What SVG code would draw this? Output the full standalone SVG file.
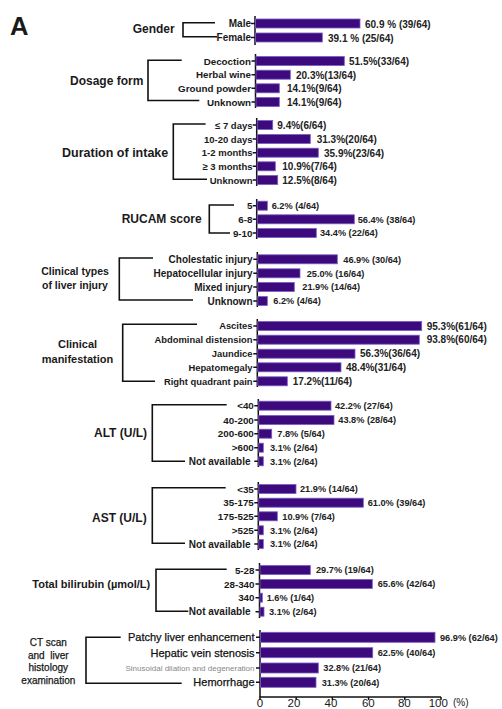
<svg xmlns="http://www.w3.org/2000/svg" width="502" height="709" viewBox="0 0 502 709">
<style>
.bar{fill:#3c0a7d;stroke:#7a5cc4;stroke-width:0.8}
.ax{stroke:#111;stroke-width:1.5;fill:none}
.br{stroke:#111;stroke-width:1.6;fill:none}
text{font-family:"Liberation Sans",Arial,sans-serif;fill:#1a1a1a}
.b{font-weight:bold}
.cat{font-weight:bold;text-anchor:end;font-size:9.8px}
.v{font-weight:bold;font-size:9.2px;fill:#222}
.v10{font-weight:bold;font-size:10px;fill:#222}
.ttl{font-weight:bold;font-size:12px}
.mid{text-anchor:middle}
.semi{stroke:#111;stroke-width:0.25}
</style>
<rect width="502" height="709" fill="#fff"/>
<text x="10" y="35" class="b" style="font-size:25.6px">A</text>

<g id="connectors">
<path class="br" d="M215,22.7 H183 V36.7 H217"/>
<path class="br" d="M181.7,60.3 H148 V100.5 H199.3"/>
<path class="br" d="M205.6,124 H173.3 V179.3 H207"/>
<path class="br" d="M234,205 H209.3 V233 H230"/>
<path class="br" d="M153,258 H119.3 V300 H193"/>
<path class="br" d="M197,324.3 H122.7 V381.3 H155"/>
<path class="br" d="M226.7,404.7 H152.3 V461.3 H185"/>
<path class="br" d="M225.7,487.7 H152.3 V543.3 H185"/>
<path class="br" d="M226.7,569.3 H156 V611.3 H188.3"/>
<path class="br" d="M120.7,637.3 H86 V683.3 H181.7"/>
</g>

<g id="gender">
<text x="132.7" y="32.5" class="ttl">Gender</text>
<path class="ax" d="M255,16 V45 M251,23.5 H255 M251,37.5 H255"/>
<rect class="bar" x="255.5" y="19" width="104.5" height="9"/>
<rect class="bar" x="255.5" y="33" width="66.8" height="9"/>
<text x="251" y="27" class="cat" style="font-size:10px">Male</text>
<text x="251" y="41" class="cat" style="font-size:10px">Female</text>
<text x="365" y="27.5" class="v10">60.9 % (39/64)</text>
<text x="328" y="41.5" class="v10">39.1 % (25/64)</text>
</g>

<g id="dosage-form">
<text x="70" y="85" class="ttl">Dosage form</text>
<path class="ax" d="M255.5,54 V108 M251.5,61 H255.5 M251.5,74.7 H255.5 M251.5,88.3 H255.5 M251.5,102 H255.5"/>
<rect class="bar" x="256" y="56.5" width="88.3" height="9"/>
<rect class="bar" x="256" y="70.2" width="34.3" height="9"/>
<rect class="bar" x="256" y="83.8" width="23.3" height="9"/>
<rect class="bar" x="256" y="97.5" width="23.3" height="9"/>
<text x="251" y="64.5" class="cat">Decoction</text>
<text x="251" y="78.2" class="cat">Herbal wine</text>
<text x="251" y="91.8" class="cat">Ground powder</text>
<text x="251" y="105.5" class="cat">Unknown</text>
<text x="349" y="65" class="v10">51.5%(33/64)</text>
<text x="296" y="78.7" class="v10">20.3%(13/64)</text>
<text x="287" y="92.3" class="v10">14.1%(9/64)</text>
<text x="287" y="106" class="v10">14.1%(9/64)</text>
</g>

<g id="duration-of-intake">
<text x="62" y="157" class="ttl" style="font-size:12.5px">Duration of intake</text>
<path class="ax" d="M256.7,118 V186 M252.7,125 H256.7 M252.7,139 H256.7 M252.7,152.7 H256.7 M252.7,166.3 H256.7 M252.7,180 H256.7"/>
<rect class="bar" x="257.2" y="120.5" width="15.5" height="9"/>
<rect class="bar" x="257.2" y="134.5" width="53.1" height="9"/>
<rect class="bar" x="257.2" y="148.2" width="61.1" height="9"/>
<rect class="bar" x="257.2" y="161.8" width="18.1" height="9"/>
<rect class="bar" x="257.2" y="175.5" width="20.5" height="9"/>
<text x="252.5" y="128.5" class="cat" style="font-size:9.5px">≤ 7 days</text>
<text x="252.5" y="142.5" class="cat" style="font-size:9.5px">10-20 days</text>
<text x="252.5" y="156.2" class="cat" style="font-size:9.5px">1-2 months</text>
<text x="252.5" y="169.8" class="cat" style="font-size:9.5px">≥ 3 months</text>
<text x="252.5" y="183.5" class="cat" style="font-size:9.5px">Unknown</text>
<text x="277.3" y="129" class="v10">9.4%(6/64)</text>
<text x="316.7" y="143" class="v10">31.3%(20/64)</text>
<text x="324" y="156.7" class="v10">35.9%(23/64)</text>
<text x="282.3" y="170.3" class="v10">10.9%(7/64)</text>
<text x="282.3" y="184" class="v10">12.5%(8/64)</text>
</g>

<g id="rucam-score">
<text x="121.7" y="223.3" class="ttl">RUCAM score</text>
<path class="ax" d="M256.7,199 V239 M252.7,205.7 H256.7 M252.7,219.3 H256.7 M252.7,233 H256.7"/>
<rect class="bar" x="257.2" y="201.2" width="10.1" height="9"/>
<rect class="bar" x="257.2" y="214.8" width="97.1" height="9"/>
<rect class="bar" x="257.2" y="228.5" width="59.1" height="9"/>
<text x="252.5" y="209.2" class="cat">5</text>
<text x="252.5" y="222.8" class="cat">6-8</text>
<text x="252.5" y="236.5" class="cat">9-10</text>
<text x="271.7" y="209" class="v">6.2% (4/64)</text>
<text x="357.7" y="222.6" class="v">56.4% (38/64)</text>
<text x="320" y="236.3" class="v">34.4% (22/64)</text>
</g>

<g id="clinical-types">
<text x="75" y="274.5" class="b mid" style="font-size:10.5px">Clinical types</text>
<text x="75" y="289" class="b mid" style="font-size:10.5px">of liver injury</text>
<path class="ax" d="M257.3,252 V307 M253.3,259.3 H257.3 M253.3,273.3 H257.3 M253.3,287 H257.3 M253.3,301 H257.3"/>
<rect class="bar" x="257.8" y="254.8" width="79.5" height="9"/>
<rect class="bar" x="257.8" y="268.8" width="42.2" height="9"/>
<rect class="bar" x="257.8" y="282.5" width="36.5" height="9"/>
<rect class="bar" x="257.8" y="296.5" width="9.5" height="9"/>
<text x="252.5" y="262.8" class="cat" style="font-size:10px">Cholestatic injury</text>
<text x="252.5" y="276.8" class="cat" style="font-size:10px">Hepatocellular injury</text>
<text x="252.5" y="290.5" class="cat" style="font-size:10px">Mixed injury</text>
<text x="252.5" y="304.5" class="cat" style="font-size:10px">Unknown</text>
<text x="343.3" y="262.6" class="v">46.9% (30/64)</text>
<text x="306.7" y="276.6" class="v">25.0% (16/64)</text>
<text x="302.3" y="290.3" class="v">21.9% (14/64)</text>
<text x="273.3" y="304.3" class="v">6.2% (4/64)</text>
</g>

<g id="clinical-manifestation">
<text x="77.5" y="348" class="b mid" style="font-size:11px">Clinical</text>
<text x="77.5" y="363" class="b mid" style="font-size:11px">manifestation</text>
<path class="ax" d="M257.3,319 V387 M253.3,326 H257.3 M253.3,339.7 H257.3 M253.3,353.7 H257.3 M253.3,367.3 H257.3 M253.3,381.3 H257.3"/>
<rect class="bar" x="257.8" y="321.5" width="163.9" height="9"/>
<rect class="bar" x="257.8" y="335.2" width="161.5" height="9"/>
<rect class="bar" x="257.8" y="349.2" width="97.2" height="9"/>
<rect class="bar" x="257.8" y="362.8" width="83.2" height="9"/>
<rect class="bar" x="257.8" y="376.8" width="29.5" height="9"/>
<text x="252.5" y="329.4" class="cat" style="font-size:9.4px">Ascites</text>
<text x="252.5" y="343.1" class="cat" style="font-size:9.4px">Abdominal distension</text>
<text x="252.5" y="357.1" class="cat" style="font-size:9.4px">Jaundice</text>
<text x="252.5" y="370.7" class="cat" style="font-size:9.4px">Hepatomegaly</text>
<text x="252.5" y="384.7" class="cat" style="font-size:9.4px">Right quadrant pain</text>
<text x="426.7" y="329.6" class="v10">95.3%(61/64)</text>
<text x="426.7" y="343.3" class="v10">93.8%(60/64)</text>
<text x="360" y="357.3" class="v10">56.3%(36/64)</text>
<text x="346" y="370.9" class="v10">48.4%(31/64)</text>
<text x="292.7" y="384.9" class="v10">17.2%(11/64)</text>
</g>

<g id="alt">
<text x="94" y="437" class="ttl">ALT (U/L)</text>
<path class="ax" d="M258.3,399 V467 M254.3,405.7 H258.3 M254.3,420 H258.3 M254.3,433.7 H258.3 M254.3,447.7 H258.3 M254.3,461.3 H258.3"/>
<rect class="bar" x="258.8" y="401.2" width="72.2" height="9"/>
<rect class="bar" x="258.8" y="415.5" width="75.2" height="9"/>
<rect class="bar" x="258.8" y="429.2" width="12.9" height="9"/>
<rect class="bar" x="258.8" y="443.2" width="4.5" height="9"/>
<rect class="bar" x="258.8" y="456.8" width="4.5" height="9"/>
<text x="253.8" y="409.2" class="cat">&lt;40</text>
<text x="253.8" y="423.5" class="cat">40-200</text>
<text x="253.8" y="437.2" class="cat">200-600</text>
<text x="253.8" y="451.2" class="cat">&gt;600</text>
<text x="250.5" y="464.8" class="cat" style="font-size:10px">Not available</text>
<text x="335" y="409" class="v">42.2% (27/64)</text>
<text x="338.3" y="423.3" class="v">43.8% (28/64)</text>
<text x="277.3" y="437" class="v">7.8% (5/64)</text>
<text x="270" y="451" class="v">3.1% (2/64)</text>
<text x="270" y="464.6" class="v">3.1% (2/64)</text>
</g>

<g id="ast">
<text x="92" y="522" class="ttl">AST (U/L)</text>
<path class="ax" d="M258.3,482 V550 M254.3,489 H258.3 M254.3,502.7 H258.3 M254.3,516.3 H258.3 M254.3,530.3 H258.3 M254.3,544 H258.3"/>
<rect class="bar" x="258.8" y="484.5" width="37.2" height="9"/>
<rect class="bar" x="258.8" y="498.2" width="104.5" height="9"/>
<rect class="bar" x="258.8" y="511.8" width="18.5" height="9"/>
<rect class="bar" x="258.8" y="525.8" width="4.5" height="9"/>
<rect class="bar" x="258.8" y="539.5" width="4.5" height="9"/>
<text x="253.8" y="492.5" class="cat">&lt;35</text>
<text x="253.8" y="506.2" class="cat">35-175</text>
<text x="253.8" y="519.8" class="cat">175-525</text>
<text x="253.8" y="533.8" class="cat">&gt;525</text>
<text x="250.5" y="547.5" class="cat" style="font-size:10px">Not available</text>
<text x="300" y="492.3" class="v">21.9% (14/64)</text>
<text x="367.7" y="506" class="v">61.0% (39/64)</text>
<text x="282.3" y="519.6" class="v">10.9% (7/64)</text>
<text x="270" y="533.6" class="v">3.1% (2/64)</text>
<text x="270" y="547.3" class="v">3.1% (2/64)</text>
</g>

<g id="total-bilirubin">
<text x="32.3" y="588" class="b" style="font-size:11px">Total bilirubin (µmol/L)</text>
<path class="ax" d="M259.5,563 V618 M255.5,570 H259.5 M255.5,584 H259.5 M255.5,597.7 H259.5 M255.5,611.7 H259.5"/>
<rect class="bar" x="260" y="565.5" width="50.3" height="9"/>
<rect class="bar" x="260" y="579.5" width="112.3" height="9"/>
<rect class="bar" x="260" y="593.2" width="2.3" height="9"/>
<rect class="bar" x="260" y="607.2" width="4" height="9"/>
<text x="254.5" y="573.5" class="cat">5-28</text>
<text x="254.5" y="587.5" class="cat">28-340</text>
<text x="254.5" y="601.2" class="cat">340</text>
<text x="250.5" y="615.2" class="cat" style="font-size:10px">Not available</text>
<text x="316" y="573.3" class="v">29.7% (19/64)</text>
<text x="377.7" y="587.3" class="v">65.6% (42/64)</text>
<text x="266.7" y="601" class="v">1.6% (1/64)</text>
<text x="269" y="615" class="v">3.1% (2/64)</text>
</g>

<g id="ct-scan-histology">
<text x="48.3" y="645.5" class="mid semi" style="font-size:10px">CT scan</text>
<text x="48.3" y="658.5" class="mid semi" style="font-size:10px;white-space:pre">and  liver</text>
<text x="48.3" y="671" class="mid semi" style="font-size:10px">histology</text>
<text x="48.3" y="684" class="mid semi" style="font-size:10px">examination</text>
<path class="ax" d="M260,630 V697 M256,637.3 H260 M256,652.7 H260 M256,668 H260 M256,682.3 H260"/>
<rect class="bar" x="260.5" y="632.3" width="174.5" height="10"/>
<rect class="bar" x="260.5" y="647.7" width="112.2" height="10"/>
<rect class="bar" x="260.5" y="663" width="57.8" height="10"/>
<rect class="bar" x="260.5" y="677.3" width="55.5" height="10"/>
<text x="254.5" y="641.3" class="semi" style="font-size:11px;text-anchor:end;fill:#111">Patchy liver enhancement</text>
<text x="254.5" y="656.7" class="semi" style="font-size:11px;text-anchor:end;fill:#111">Hepatic vein stenosis</text>
<text x="254.5" y="670.8" style="font-size:8px;text-anchor:end;fill:#888">Sinusoidal dilation and degeneration</text>
<text x="254.5" y="686.3" class="semi" style="font-size:11px;text-anchor:end;fill:#111">Hemorrhage</text>
<text x="440" y="640.7" class="v">96.9% (62/64)</text>
<text x="377.7" y="656.1" class="v">62.5% (40/64)</text>
<text x="323.3" y="671.4" class="v">32.8% (21/64)</text>
<text x="321.7" y="685.7" class="v">31.3% (20/64)</text>
</g>

<g id="x-axis">
<path class="ax" d="M259.3,697 H441 M260,697 V700 M296.2,697 V700 M332.4,697 V700 M368.6,697 V700 M404.8,697 V700 M441,697 V700"/>
<text x="260" y="707" class="mid" style="font-size:11.5px">0</text>
<text x="294" y="707" class="mid" style="font-size:11.5px">20</text>
<text x="331" y="707" class="mid" style="font-size:11.5px">40</text>
<text x="368.3" y="707" class="mid" style="font-size:11.5px">60</text>
<text x="404.3" y="707" class="mid" style="font-size:11.5px">80</text>
<text x="438.3" y="707" class="mid" style="font-size:11.5px">100</text>
<text x="453" y="706" style="font-size:10px">(%)</text>
</g>
</svg>
